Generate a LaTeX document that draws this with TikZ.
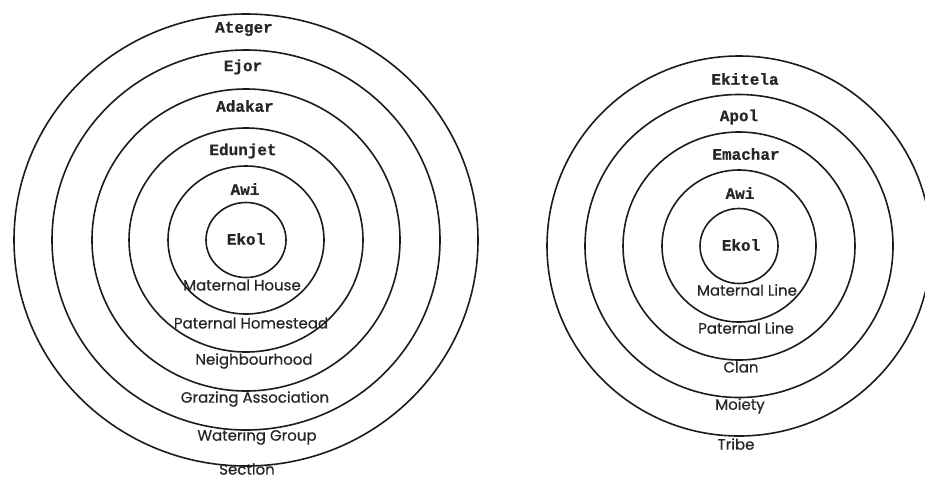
\documentclass[tikz,border=0pt]{standalone}
\usepackage{fontspec}
\setmainfont{Poppins}
\newfontfamily\typewriter[FakeBold=0.8]{Liberation Mono Bold}
\newfontfamily\glossfont[FakeBold=0.6]{Poppins}
\definecolor{ringink}{HTML}{1C1C1C}
\definecolor{labelink}{HTML}{262626}

\begin{document}
\begin{tikzpicture}[
  x=1pt, y=-1pt,
  ring/.style={draw=ringink, line width=1.6pt},
  term/.style={font=\typewriter\fontsize{16}{16}\selectfont,
               text=labelink, inner sep=0pt},
  gloss/.style={font=\glossfont\fontsize{15}{15}\selectfont,
                text=labelink, inner sep=0pt}
]
\useasboundingbox (0,0) rectangle (925,480);
\clip (0,0) rectangle (925,480);

% Left rings — territorial units
\coordinate (lc) at (246,240);
\draw[ring] (lc) ellipse [x radius=40,  y radius=37.5];
\draw[ring] (lc) ellipse [x radius=78,  y radius=74];
\draw[ring] (lc) ellipse [x radius=117, y radius=112];
\draw[ring] (lc) ellipse [x radius=154, y radius=151];
\draw[ring] (lc) ellipse [x radius=194, y radius=190];
\draw[ring] (lc) ellipse [x radius=232, y radius=226];

% Right rings — kinship units
\coordinate (rc) at (739,246);
\draw[ring] (rc) ellipse [x radius=39,  y radius=37.5];
\draw[ring] (rc) ellipse [x radius=77,  y radius=76];
\draw[ring] (rc) ellipse [x radius=116, y radius=114];
\draw[ring] (rc) ellipse [x radius=154, y radius=151.5];
\draw[ring] (rc) ellipse [x radius=192, y radius=190];

% Left terms
\node[term] (ateger)  at (244,29)  {Ateger};
\node[term] (ejor)    at (243,67)  {Ejor};
\node[term] (adakar)  at (245,106) {Adakar};
\node[term] (edunjet) at (243,151) {Edunjet};
\node[term] (lawi)    at (245,189) {Awi};
\node[term] (lekol)   at (246,239) {Ekol};

% Left glosses
\node[gloss] (mhouse)  at (242,285) {Maternal House};
\node[gloss] (phome)   at (251,323) {Paternal Homestead};
\node[gloss] (nbhood)  at (254,361) {Neighbourhood};
\node[gloss] (grazing) at (255,399) {Grazing Association};
\node[gloss] (water)   at (257,437) {Watering Group};
\node[gloss] (section) at (247,469) {Section};

% Right terms
\node[term] (ekitela) at (745,79)  {Ekitela};
\node[term] (apol)    at (739,117) {Apol};
\node[term] (emachar) at (746,154) {Emachar};
\node[term] (rawi)    at (740,193) {Awi};
\node[term] (rekol)   at (741,245) {Ekol};

% Right glosses
\node[gloss] (mline)  at (747,290) {Maternal Line};
\node[gloss] (pline)  at (746,328) {Paternal Line};
\node[gloss] (clan)   at (741,367) {Clan};
\node[gloss] (moiety) at (740,406) {Moiety};
\node[gloss] (tribe)  at (736,444) {Tribe};

\end{tikzpicture}
\end{document}
